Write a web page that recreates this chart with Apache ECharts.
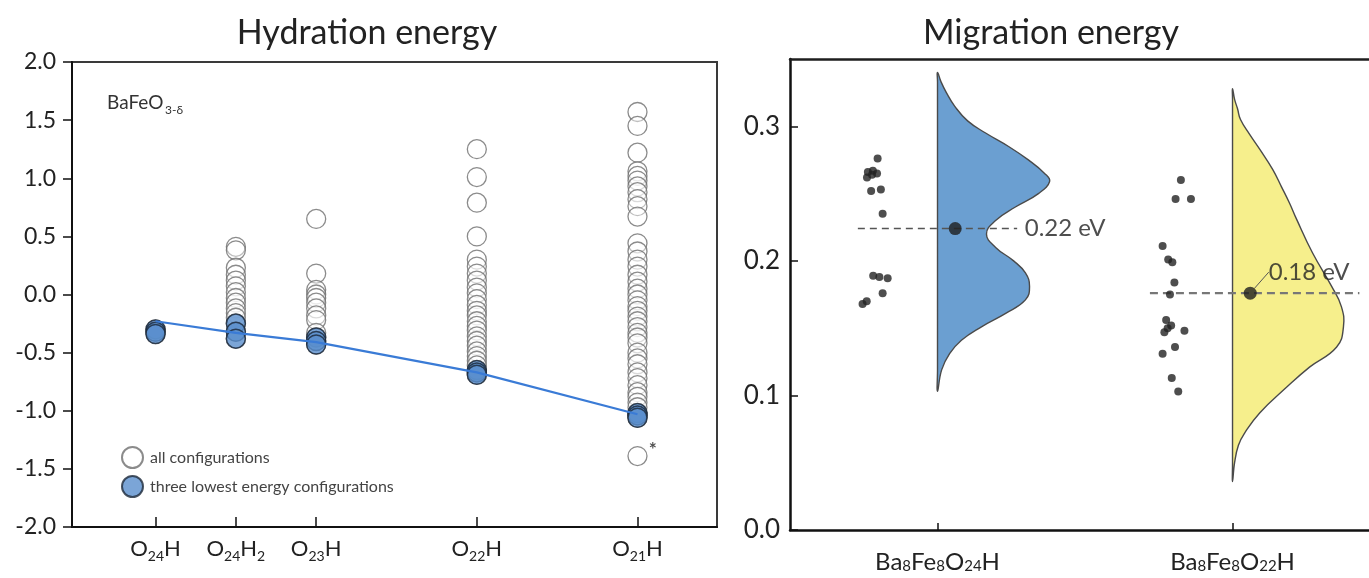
<!DOCTYPE html>
<html>
<head>
<meta charset="utf-8">
<script src="https://cdn.jsdelivr.net/npm/echarts@6/dist/echarts.min.js"></script>
<style>
  html, body { margin: 0; padding: 0; background: #ffffff; overflow: hidden; }
  #chart { width: 1369px; height: 578px; }
</style>
</head>
<body>
<div id="chart"></div>
<script>
// ---------------- Hydration energy (eV) ----------------
const hydrationLabels = ['O24H', 'O24H2', 'O23H', 'O22H', 'O21H'];
const hydrationPositions = [1, 2, 3, 5, 7];

const allO24H  = [-0.30, -0.32, -0.34];
const allO24H2 = [0.41, 0.38, 0.23, 0.17, 0.12, 0.07, 0.02, -0.03, -0.07, -0.12, -0.16, -0.20, -0.25, -0.32, -0.38];
const allO23H  = [0.65, 0.18, 0.04, 0.00, -0.03, -0.07, -0.12, -0.18, -0.22, -0.33, -0.37, -0.40, -0.43];
const allO22H  = [1.25, 1.01, 0.79, 0.50, 0.30, 0.24, 0.18, 0.12, 0.06, 0.01, -0.04, -0.09, -0.14, -0.18,
                  -0.23, -0.27, -0.31, -0.36, -0.40, -0.44, -0.49, -0.53, -0.57, -0.61, -0.65, -0.67, -0.69];
const allO21H  = [1.57, 1.45, 1.22, 1.06, 1.02, 0.98, 0.93, 0.88, 0.82, 0.76, 0.67, 0.44, 0.37, 0.30, 0.24,
                  0.17, 0.11, 0.05, 0.00, -0.05, -0.10, -0.14, -0.19, -0.23, -0.28, -0.33, -0.37, -0.42,
                  -0.50, -0.55, -0.60, -0.67, -0.72, -0.78, -0.84, -0.88, -0.93, -0.97, -1.02, -1.04, -1.06, -1.39];
const flaggedO21H = -1.39;

const lowestO24H  = [-0.30, -0.32, -0.34];
const lowestO24H2 = [-0.25, -0.32, -0.38];
const lowestO23H  = [-0.37, -0.40, -0.43];
const lowestO22H  = [-0.65, -0.67, -0.69];
const lowestO21H  = [-1.02, -1.04, -1.06];

const trendLine = [-0.23, -0.33, -0.41, -0.67, -1.03];

// ---------------- Migration energy (eV) ----------------
const migrationLabels = ['Ba8Fe8O24H', 'Ba8Fe8O22H'];
const migrationPositions = [0.5, 1.5];

const barrierO24 = [0.276, 0.266, 0.267, 0.265, 0.262, 0.264, 0.252, 0.253, 0.235, 0.189, 0.188, 0.187, 0.176, 0.168, 0.170];
const jitterO24  = [-0.203, -0.236, -0.219, -0.205, -0.239, -0.222, -0.225, -0.192, -0.186, -0.218, -0.197, -0.169, -0.186, -0.254, -0.240];

const barrierO22 = [0.260, 0.246, 0.246, 0.211, 0.201, 0.199, 0.184, 0.175, 0.156, 0.150, 0.152, 0.148, 0.147, 0.136, 0.131, 0.113, 0.103];
const jitterO22  = [-0.175, -0.193, -0.141, -0.237, -0.218, -0.204, -0.197, -0.212, -0.225, -0.220, -0.208, -0.163, -0.231, -0.195, -0.237, -0.206, -0.184];

const meanBarrier = [0.224, 0.176];

// density outline of each distribution: energy levels and half-violin width
const densityO24Energy = [0.340, 0.333, 0.325, 0.315, 0.304, 0.295, 0.285, 0.275, 0.265, 0.259, 0.250, 0.240,
                          0.230, 0.220, 0.210, 0.200, 0.191, 0.181, 0.171, 0.161, 0.151, 0.141, 0.131, 0.119, 0.103];
const densityO24Width  = [0, 0.012, 0.030, 0.058, 0.102, 0.163, 0.241, 0.308, 0.363, 0.380, 0.342, 0.264,
                          0.197, 0.166, 0.197, 0.258, 0.298, 0.312, 0.298, 0.231, 0.149, 0.081, 0.041, 0.014, 0];
const densityO22Energy = [0.328, 0.320, 0.313, 0.305, 0.294, 0.283, 0.268, 0.255, 0.243, 0.231, 0.206, 0.181,
                          0.166, 0.151, 0.136, 0.121, 0.106, 0.087, 0.072, 0.063, 0.050, 0.036];
const densityO22Width  = [0, 0.007, 0.017, 0.027, 0.058, 0.092, 0.136, 0.166, 0.193, 0.217, 0.271, 0.336,
                          0.369, 0.376, 0.353, 0.261, 0.183, 0.092, 0.041, 0.020, 0.007, 0];

// ---------------- styling ----------------
const FONT = 'Lato, "Open Sans", sans-serif';
const INK = '#222222';
const densityColors = ['#6b9fd1', '#f6ef8c'];
const MEAN_DOT_SHIFT = 0.06;
const MEAN_LINE_REACH = [[-0.27, 0.27], [-0.28, 0.43]];
const MIGRATION_X_MAX = 1.966;   // panel is cut at the page edge

// chemical formula -> rich text with subscripted digits
function formulaRich(str, big, small) {
  return str.split(/(\d+)/).filter(s => s.length).map(s =>
    /^\d+$/.test(s) ? '{' + small + '|' + s + '}' : '{' + big + '|' + s + '}'
  ).join('');
}

const allGroups = [allO24H, allO24H2, allO23H, allO22H, allO21H];
const lowestGroups = [lowestO24H, lowestO24H2, lowestO23H, lowestO22H, lowestO21H];

const allData = [];
allGroups.forEach((vals, g) => {
  vals.forEach(v => {
    const item = { value: [hydrationPositions[g], v] };
    if (g === 4 && v === flaggedO21H) {
      item.label = {
        show: true, formatter: '*', position: 'right', distance: 1,
        offset: [0, -6], fontSize: 19, fontWeight: 'bold', color: INK, fontFamily: FONT
      };
    }
    allData.push(item);
  });
});
const lowestData = [];
lowestGroups.forEach((vals, g) => vals.forEach(v => lowestData.push([hydrationPositions[g], v])));
const trendData = hydrationPositions.map((p, i) => [p, trendLine[i]]);

const barrierSets = [barrierO24, barrierO22];
const jitterSets = [jitterO24, jitterO22];
const dotData = [];
barrierSets.forEach((vals, g) => vals.forEach((v, k) => dotData.push([migrationPositions[g] + jitterSets[g][k], v])));

const densityEnergy = [densityO24Energy, densityO22Energy];
const densityWidth = [densityO24Width, densityO22Width];

const chart = echarts.init(document.getElementById('chart'), null, { renderer: 'canvas', width: 1369, height: 578 });

const option = {
  animation: false,
  backgroundColor: '#ffffff',
  textStyle: { fontFamily: FONT },
  graphic: [
    { type: 'text', x: 367, y: 33, style: { text: 'Hydration energy', font: '34px ' + FONT, fill: INK,
      align: 'center', verticalAlign: 'middle' } },
    { type: 'text', x: 1051, y: 33, style: { text: 'Migration energy', font: '34px ' + FONT, fill: INK,
      align: 'center', verticalAlign: 'middle' } },
    // sample composition tag: BaFeO with subscript 3-δ
    { type: 'text', x: 107, y: 103, style: { text: 'BaFeO', font: '19px ' + FONT, fill: '#333',
      align: 'left', verticalAlign: 'middle' } },
    { type: 'text', x: 165, y: 110, style: { text: '3-δ', font: '12px ' + FONT, fill: '#333',
      align: 'left', verticalAlign: 'middle' } }
  ],
  legend: {
    data: ['all configurations', 'three lowest energy configurations'],
    orient: 'vertical', left: 116, top: 441,
    itemWidth: 21, itemHeight: 21, itemGap: 6, icon: 'circle',
    textStyle: { fontFamily: FONT, fontSize: 16, color: '#444', padding: [0, 0, 0, 2] },
    selectedMode: false
  },
  grid: [
    { left: 72, top: 62, width: 645, height: 465, show: true, borderColor: '#3a3a3a', borderWidth: 2,
      backgroundColor: 'transparent', outerBoundsMode: 'none' },
    { left: 790, top: 59, width: 580, height: 471, show: false, borderWidth: 0, borderColor: 'rgba(0,0,0,0)',
      backgroundColor: 'transparent', outerBoundsMode: 'none' }
  ],
  xAxis: [
    {
      gridIndex: 0, type: 'value', min: -0.04, max: 7.99,
      axisLine: { onZero: false, lineStyle: { color: '#111', width: 2 } },
      axisTick: { inside: true, length: 10, customValues: hydrationPositions, lineStyle: { color: '#111', width: 1.5 } },
      axisLabel: {
        customValues: hydrationPositions, margin: 8,
        formatter: v => formulaRich(hydrationLabels[hydrationPositions.indexOf(v)], 'n', 's'),
        rich: {
          n: { fontSize: 22, fontFamily: FONT, color: INK },
          s: { fontSize: 14, fontFamily: FONT, color: INK, padding: [14, 0, 0, 0] }
        }
      },
      splitLine: { show: false }
    },
    {
      gridIndex: 1, type: 'value', min: 0, max: MIGRATION_X_MAX,
      axisLine: { onZero: false, lineStyle: { color: '#111', width: 2.5 } },
      axisTick: { inside: true, length: 7, customValues: migrationPositions, lineStyle: { color: '#111', width: 1.5 } },
      axisLabel: {
        customValues: migrationPositions, margin: 20,
        formatter: v => formulaRich(migrationLabels[migrationPositions.indexOf(v)], 'n', 's'),
        rich: {
          n: { fontSize: 24, fontFamily: FONT, color: INK },
          s: { fontSize: 15, fontFamily: FONT, color: INK, padding: [9, 0, 0, 0] }
        }
      },
      splitLine: { show: false }
    },
    {
      // frame line along the top of the migration panel
      gridIndex: 1, type: 'value', min: 0, max: MIGRATION_X_MAX, position: 'top',
      axisLine: { show: true, onZero: false, lineStyle: { color: '#1e1e1e', width: 2.5 } },
      axisTick: { show: false }, axisLabel: { show: false }, splitLine: { show: false }
    }
  ],
  yAxis: [
    {
      gridIndex: 0, type: 'value', min: -2, max: 2, interval: 0.5,
      axisLine: { show: true, onZero: false, lineStyle: { color: '#111', width: 2 } },
      axisTick: { show: true, length: 9, lineStyle: { color: '#111', width: 1.5 } },
      axisLabel: { formatter: v => v.toFixed(1), fontSize: 23, color: INK, fontFamily: FONT, margin: 16 },
      splitLine: { show: false }
    },
    {
      gridIndex: 1, type: 'value', min: 0, max: 0.35, interval: 0.1, position: 'left',
      axisLine: { show: true, onZero: false, lineStyle: { color: '#111', width: 2.5 } },
      axisTick: { show: true, inside: true, length: 8, customValues: [0, 0.1, 0.2, 0.3], lineStyle: { color: '#111', width: 1.5 } },
      axisLabel: { customValues: [0, 0.1, 0.2, 0.3], formatter: v => v.toFixed(1), fontSize: 26, color: INK, fontFamily: FONT, margin: 10 },
      splitLine: { show: false }
    }
  ],
  series: [
    {
      name: 'all configurations', type: 'scatter', xAxisIndex: 0, yAxisIndex: 0,
      symbol: 'circle', symbolSize: 19, data: allData, z: 2,
      itemStyle: { color: 'rgba(255,255,255,0.55)', borderColor: '#6e6e6e', borderWidth: 1.3 }
    },
    {
      name: 'three lowest energy configurations', type: 'scatter', xAxisIndex: 0, yAxisIndex: 0,
      symbol: 'circle', symbolSize: 19, data: lowestData, z: 3,
      itemStyle: { color: '#5a8fcd', borderColor: '#1c2838', borderWidth: 1.5 }
    },
    {
      name: 'trend', type: 'line', xAxisIndex: 0, yAxisIndex: 0, data: trendData, z: 4,
      symbol: 'none', lineStyle: { color: '#3a7bd6', width: 2.2 }
    },
    {
      name: 'density', type: 'custom', xAxisIndex: 1, yAxisIndex: 1, z: 2,
      data: migrationPositions.map((p, i) => [p, meanBarrier[i]]),
      renderItem: (params, api) => {
        const i = params.dataIndex;
        const e = densityEnergy[i], w = densityWidth[i], c = migrationPositions[i];
        const pts = [];
        for (let k = 0; k < e.length; k++) pts.push(api.coord([c + w[k], e[k]]));
        for (let k = e.length - 2; k >= 1; k--) pts.push(api.coord([c, e[k]]));
        return {
          type: 'polygon',
          shape: { points: pts, smooth: 0.45 },
          style: { fill: densityColors[i], stroke: '#4a4a4a', lineWidth: 1.4 }
        };
      }
    },
    {
      name: 'mean O24', type: 'line', xAxisIndex: 1, yAxisIndex: 1, z: 3, symbol: 'none',
      data: MEAN_LINE_REACH[0].map(d => [migrationPositions[0] + d, meanBarrier[0]]),
      lineStyle: { color: '#555', width: 1.4, type: [7, 5] }
    },
    {
      name: 'mean O22', type: 'line', xAxisIndex: 1, yAxisIndex: 1, z: 3, symbol: 'none',
      data: MEAN_LINE_REACH[1].map(d => [migrationPositions[1] + d, meanBarrier[1]]),
      lineStyle: { color: '#777', width: 2.2, type: [8, 5] }
    },
    {
      name: 'barriers', type: 'scatter', xAxisIndex: 1, yAxisIndex: 1, z: 4,
      symbol: 'circle', symbolSize: 8, data: dotData,
      itemStyle: { color: '#222' }
    },
    {
      name: 'mean', type: 'scatter', xAxisIndex: 1, yAxisIndex: 1, z: 5,
      symbol: 'circle', symbolSize: 13,
      data: migrationPositions.map((p, i) => ({
        value: [p + MEAN_DOT_SHIFT, meanBarrier[i]],
        label: i === 0 ? { distance: 63 } : { distance: 4 },
        labelLine: { show: i === 1, lineStyle: { color: '#555', width: 1 } }
      })),
      itemStyle: { color: '#1e1e1e' },
      label: {
        show: true, position: 'right', fontSize: 24, color: INK, fontFamily: FONT,
        formatter: p => p.value[1].toFixed(2) + ' eV'
      },
      labelLayout: p => (p.dataIndex === 1 ? { dx: 8, dy: -21 } : { dx: 0, dy: 0 })
    }
  ]
};

chart.setOption(option);
</script>
</body>
</html>
